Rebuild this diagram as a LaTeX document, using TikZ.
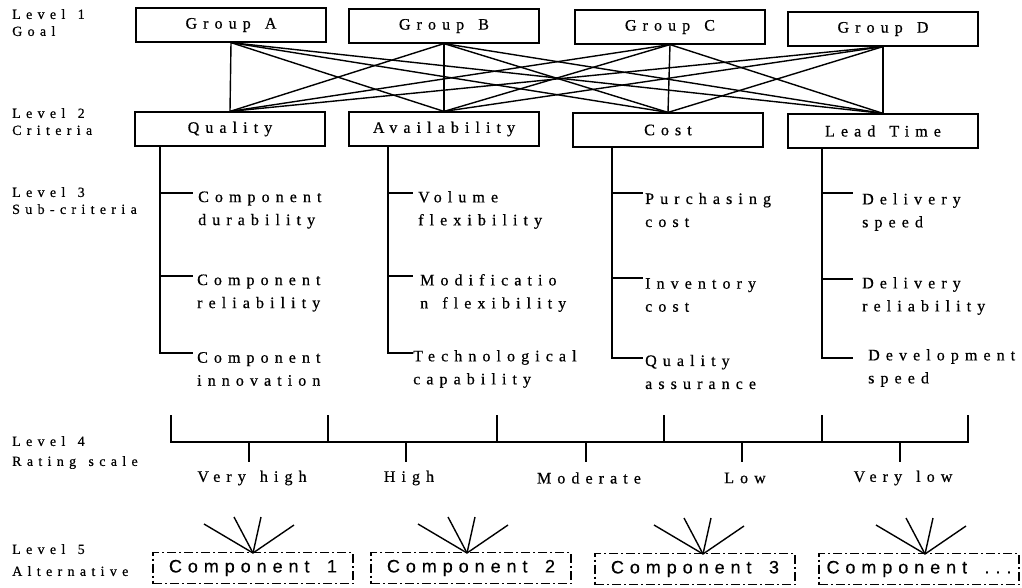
\documentclass[tikz,border=0pt]{standalone}
\usepackage{fontspec}
\setmainfont{Liberation Serif}
\newfontfamily\spserif[LetterSpace=38,WordSpace=1.4,FakeBold=0.6]{Liberation Serif}
\newfontfamily\spsans[LetterSpace=33,WordSpace=1.6,FakeBold=0.4]{Liberation Sans}
\usetikzlibrary{calc}

\begin{document}
\begin{tikzpicture}[x=1pt,y=-1pt,
  box/.style={draw, line width=1.2pt, minimum width=190pt, minimum height=34pt,
    inner sep=0pt, font=\spserif\fontsize{16}{18}\selectfont},
  link/.style={line width=1.4pt},
  tree/.style={line width=1.6pt},
  twig/.style={line width=1.1pt},
  sub/.style={anchor=west, align=left, inner sep=0pt,
    font=\spserif\fontsize{16}{23}\selectfont},
  lvl/.style={anchor=north west, align=left, inner sep=0pt,
    font=\spserif\fontsize{14}{17}\selectfont},
  alt/.style={draw, line width=1.8pt, dash pattern=on 9pt off 3pt on 2pt off 3pt,
    minimum width=200pt, minimum height=31pt, inner sep=0pt,
    font=\spsans\fontsize{18}{20}\selectfont},
  rate/.style={inner sep=0pt, font=\spserif\fontsize{16}{18}\selectfont},
  fan/.style={line width=1.4pt}
]
\useasboundingbox (0,0) rectangle (1022,587);

% level captions
\node[lvl] (l1) at (12,9) {Level 1\\Goal};
\node[lvl] (l2) at (12,108) {Level 2\\Criteria};
\node[lvl] (l3) at (12,187) {Level 3\\Sub-criteria};
\node[lvl, font=\spserif\fontsize{14}{20}\selectfont] (l4) at (12,436) {Level 4\\Rating scale};
\node[lvl, font=\spserif\fontsize{14}{22}\selectfont] (l5) at (12,544) {Level 5\\Alternative};

% level 1: goal groups
\node[box] (ga) at (231,25) {Group A};
\node[box] (gb) at (444,26) {Group B};
\node[box] (gc) at (670,27) {Group C};
\node[box] (gd) at (883,29) {Group D};

% level 2: criteria
\node[box] (cq) at (230,129) {Quality};
\node[box] (ca) at (444,129) {Availability};
\node[box] (cc) at (668,130) {Cost};
\node[box] (cl) at (883,131) {Lead Time};

% every group linked to every criterion
\foreach \g in {ga,gb,gc,gd}
  \foreach \c in {cq,ca,cc,cl}
    \draw[link] (\g.south) -- (\c.north);

% level 3: sub-criteria trees
\coordinate (tq) at (160,0 |- cq.south);
\draw[tree] (tq) -- (160,353) -- (193,353);
\draw[twig] (160,193) -- (193,193);
\draw[twig] (160,276) -- (193,276);
\node[sub] (q1) at (198,210) {Component\\durability};
\node[sub] (q2) at (197,293) {Component\\reliability};
\node[sub] (q3) at (197,369) {Component\\innovation};

\coordinate (ta) at (388,0 |- ca.south);
\draw[tree] (ta) -- (388,353) -- (413,353);
\draw[twig] (388,193) -- (413,193);
\draw[twig] (388,276) -- (413,276);
\node[sub] (a1) at (418,210) {Volume\\flexibility};
\node[sub] (a2) at (420,293) {Modificatio\\n flexibility};
\node[sub] (a3) at (413,369) {Technological\\capability};

\coordinate (tc) at (612,0 |- cc.south);
\draw[tree] (tc) -- (612,358) -- (643,358);
\draw[twig] (612,193) -- (643,193);
\draw[twig] (612,278) -- (643,278);
\node[sub] (c1) at (645,210) {Purchasing\\cost};
\node[sub] (c2) at (645,295) {Inventory\\cost};
\node[sub] (c3) at (645,372) {Quality\\assurance};

\coordinate (tl) at (822,0 |- cl.south);
\draw[tree] (tl) -- (822,358) -- (853,358);
\draw[twig] (822,193) -- (853,193);
\draw[twig] (822,279) -- (853,279);
\node[sub] (d1) at (862,212) {Delivery\\speed};
\node[sub] (d2) at (862,296) {Delivery\\reliability};
\node[sub] (d3) at (868,368) {Development\\speed};

% level 4: rating scale
\draw[tree] (171,415) -- (171,442) -- (968,442) -- (968,415);
\foreach \x in {328,497,664,822}
  \draw[tree] (\x,415) -- (\x,442);
\foreach \x/\t [count=\i] in {249/Very high,406/High,586/Moderate,742/Low,900/Very low}{
  \draw[twig] (\x,442) -- (\x,462);
  \node[rate] (r\i) at (\x+3,478) {\t};
}

% level 5: alternatives
\node[alt] (k1) at (253,568) {Component 1};
\node[alt] (k2) at (471,568) {Component 2};
\node[alt] (k3) at (695,569) {Component 3};
\node[alt] (k4) at (919,569) {Component ...};
\coordinate (p1) at (253,553);
\coordinate (p2) at (467,553);
\coordinate (p3) at (703,554);
\coordinate (p4) at (925,554);
\foreach \p in {p1,p2,p3,p4}
  \foreach \dx/\dy in {-49/-29,-19/-36,8/-36,41/-28}
    \draw[fan] (\p) -- ++(\dx,\dy);
\end{tikzpicture}
\end{document}
